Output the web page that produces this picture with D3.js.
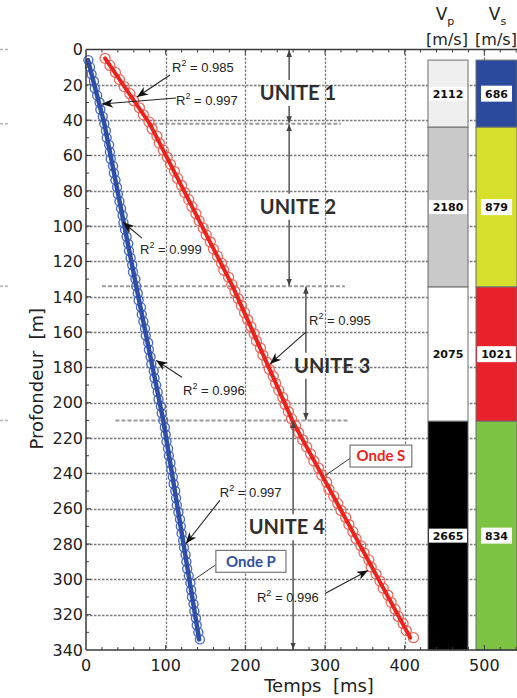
<!DOCTYPE html>
<html><head><meta charset="utf-8">
<script src="https://cdn.jsdelivr.net/npm/d3@7"></script>
<style>body{margin:0;background:#fff}svg{display:block}</style>
</head><body>
<svg id="chart" width="517" height="698"></svg>
<script>
// ---------- DATA ----------
const pDepth = [6,10,14,18,22,26,30,34,38,42,46,50,54,58,62,66,70,74,78,82,86,90,94,98,102,106,110,114,118,122,126,130,134,138,142,146,150,154,158,162,166,170,174,178,182,186,190,194,198,202,206,210,214,218,222,226,230,234,238,242,246,250,254,258,262,266,270,274,278,282,286,290,294,298,302,306,310,314,318,322,326,330,334];
const pTime  = [3,5,7,10,11,14,17,18,21,23,25,26,29,30,31,34,35,37,39,40,42,44,46,47,49,51,53,54,56,58,59,62,63,65,66,69,70,72,74,75,78,79,81,82,85,86,88,90,91,94,95,97,99,100,101,103,104,106,107,109,110,112,113,114,116,118,119,120,122,123,125,126,127,129,131,132,133,135,136,138,139,141,143];
const sDepth = [5,9,13,17,21,25,29,33,37,41,45,49,53,57,61,65,69,73,77,81,85,89,93,97,101,105,109,113,117,121,125,129,133,137,141,145,149,153,157,161,165,169,173,177,181,185,189,193,197,201,205,209,213,217,221,225,229,233,237,241,245,249,253,257,261,265,269,273,277,281,285,289,293,297,301,305,309,313,317,321,325,329,333];
const sTime  = [24,30,37,42,48,55,60,67,72,79,83,89,92,97,102,106,111,115,120,124,129,133,138,142,147,151,156,160,165,170,173,179,183,187,191,195,199,203,207,211,214,219,222,227,230,235,238,242,247,250,254,258,263,267,272,277,282,286,292,296,302,305,311,316,320,326,330,335,339,345,349,355,358,364,369,373,379,383,388,392,398,402,411];
// regression lines (per unit, joined)
const pFitDepth = [6,42,134,210,334];
const pFitTime  = [2.5,23,63,97,142];
const sFitDepth = [5,42,134,211,333];
const sFitTime  = [24,80,184,260,407];

const unitNames  = ["UNITE 1","UNITE 2","UNITE 3","UNITE 4"];
const unitBounds = [0,42,134,210,340];
const layerBounds = [6,44,134.5,210.5,340];
const vpValues = [2112,2180,2075,2665];
const vsValues = [686,879,1021,834];
const vpColors = ["#efefef","#c9c9c9","#ffffff","#000000"];
const vsColors = ["#2b4a9e","#d5df2c","#e9212a","#7cc243"];

const r2Values = ["0.985","0.997","0.999","0.996","0.995","0.997","0.996"];
const depthTickLabels = [0,20,40,60,80,100,120,140,160,180,200,220,240,260,280,300,320,340];
const timeTickLabels  = [0,100,200,300,400,500];
const legendNames = ["Onde P","Onde S"];

// ---------- LAYOUT ----------
const svg = d3.select("#chart");
const x = d3.scaleLinear().domain([0,541]).range([86,517]);
const y = d3.scaleLinear().domain([0,340]).range([49.5,650]);
const X0 = x(0), X1 = x(541), Y0 = y(0), Y1 = y(340);
const crisp = v => Math.round(v)+0.5;

const defs = svg.append("defs");
defs.append("marker").attr("id","ah").attr("viewBox","0 0 10 8").attr("refX",10).attr("refY",4)
  .attr("markerWidth",12).attr("markerHeight",9).attr("markerUnits","userSpaceOnUse").attr("orient","auto")
  .append("path").attr("d","M0,0 L10,4 L0,8 L3,4 Z").attr("fill","#111");
defs.append("marker").attr("id","uh").attr("viewBox","0 0 10 8").attr("refX",10).attr("refY",4)
  .attr("markerWidth",7).attr("markerHeight",6).attr("markerUnits","userSpaceOnUse").attr("orient","auto")
  .append("path").attr("d","M0,0 L10,4 L0,8 Z").attr("fill","#444");

// grid
const grid = svg.append("g").attr("class","grid");
depthTickLabels.filter(d=>d>0 && d<340).forEach(d=>{
  grid.append("path").attr("d",`M${X0},${crisp(y(d))}H${X1}`)
    .attr("fill","none").attr("stroke","#7a7a7a").attr("stroke-width",1.3).attr("stroke-dasharray","2.5 1.5");
});
timeTickLabels.filter(t=>t>0).forEach(t=>{
  grid.append("path").attr("d",`M${crisp(x(t))},${Y0}V${Y1}`)
    .attr("fill","none").attr("stroke","#7a7a7a").attr("stroke-width",1.3).attr("stroke-dasharray","2.5 1.5");
});

// unit boundary dashed lines
const bStart = [null,77,20,37];
const bEnd = [null,320,325,329];
[1,2,3].forEach(i=>{
  grid.append("line").attr("x1",x(bStart[i])).attr("x2",x(bEnd[i]))
    .attr("y1",y(unitBounds[i])).attr("y2",y(unitBounds[i]))
    .attr("stroke","#9a9a9a").attr("stroke-width",2).attr("stroke-dasharray","4,2");
});
// stray margin dashes
[0,1,2,3].forEach(i=>{
  svg.append("line").attr("x1",0).attr("x2",9).attr("y1",y(unitBounds[i])).attr("y2",y(unitBounds[i]))
    .attr("stroke","#b5b5b5").attr("stroke-width",1.5).attr("stroke-dasharray","3,2");
});

// columns
const vpX = 428, vpW = 40, vsX = 476, vsW = 41;
const cols = svg.append("g");
for (let i=0;i<4;i++){
  const ya = y(layerBounds[i]), yb = y(layerBounds[i+1]);
  cols.append("rect").attr("x",vpX).attr("y",ya).attr("width",vpW).attr("height",yb-ya)
    .attr("fill",vpColors[i]).attr("stroke","#6d6d6d").attr("stroke-width",1);
  cols.append("rect").attr("x",vsX).attr("y",ya).attr("width",vsW).attr("height",yb-ya)
    .attr("fill",vsColors[i]).attr("stroke","#6d6d6d").attr("stroke-width",1);
}
for (let i=0;i<4;i++){
  const yc = y((layerBounds[i]+layerBounds[i+1])/2);
  cols.append("rect").attr("x",vpX+1).attr("y",yc-7).attr("width",vpW-2).attr("height",14).attr("fill","#fff");
  cols.append("text").attr("x",vpX+vpW/2).attr("y",yc).attr("dy","0.36em").attr("text-anchor","middle")
    .attr("font-family","DejaVu Sans").attr("font-weight","bold").attr("font-size",11).attr("fill","#111")
    .text(vpValues[i]);
  const t = cols.append("text").attr("x",vsX+vsW/2).attr("y",yc).attr("dy","0.36em").attr("text-anchor","middle")
    .attr("font-family","DejaVu Sans").attr("font-weight","bold").attr("font-size",11).attr("fill","#111")
    .text(vsValues[i]);
  const w = Math.min(t.node().getComputedTextLength()+8, vsW);
  cols.append("rect").attr("x",vsX+vsW/2-w/2).attr("y",yc-8).attr("width",w).attr("height",16).attr("fill","#fff");
}
cols.selectAll("text").raise();

// headers
const hdr = svg.append("g").attr("font-family","DejaVu Sans").attr("fill","#222");
[["p",vpX+vpW/2-3,vpX+vpW/2-1],["s",vsX+vsW/2+1,vsX+vsW/2-0.5]].forEach(([sub,cx,bx])=>{
  const t = hdr.append("text").attr("x",cx).attr("y",20).attr("text-anchor","middle").attr("font-size",17);
  t.append("tspan").text("V");
  t.append("tspan").attr("font-size",11).attr("dy",5).text(sub);
  hdr.append("text").attr("x",bx).attr("y",45).attr("text-anchor","middle").attr("font-size",16).text("[m/s]");
});

// data circles
const lineGen = d3.line().x(d=>x(d[0])).y(d=>y(d[1]));
const pts = svg.append("g").attr("fill","none");
pDepth.forEach((d,i)=>{
  pts.append("circle").attr("cx",x(pTime[i])).attr("cy",y(d)).attr("r",4.5)
    .attr("stroke","#4d6cc2").attr("stroke-width",1.4);
});
sDepth.forEach((d,i)=>{
  pts.append("circle").attr("cx",x(sTime[i])).attr("cy",y(d)).attr("r",5)
    .attr("stroke","#ec6a60").attr("stroke-width",1.3);
});
// fit lines
svg.append("path").attr("d",lineGen(pFitTime.map((t,i)=>[t,pFitDepth[i]])))
  .attr("fill","none").attr("stroke","#2f4ea6").attr("stroke-width",4.5).attr("stroke-linecap","round");
svg.append("path").attr("d",lineGen(sFitTime.map((t,i)=>[t,sFitDepth[i]])))
  .attr("fill","none").attr("stroke","#e8241c").attr("stroke-width",4).attr("stroke-linecap","round");

// axes frame + ticks
const ax = svg.append("g").attr("stroke","#3a3a3a");
ax.append("line").attr("x1",X0).attr("x2",X0).attr("y1",Y0).attr("y2",Y1).attr("stroke-width",1.5);
ax.append("line").attr("x1",X0).attr("x2",X1).attr("y1",Y1).attr("y2",Y1).attr("stroke-width",1.5);
ax.append("line").attr("x1",X0).attr("x2",X1).attr("y1",Y0).attr("y2",Y0).attr("stroke-width",1.5);
for (let d=10; d<340; d+=10){
  const len = d%20===0?5:3;
  ax.append("line").attr("x1",X0).attr("x2",X0+len).attr("y1",y(d)).attr("y2",y(d)).attr("stroke-width",1);
}
for (let t=20; t<541; t+=20){
  const len = t%100===0?5:3;
  ax.append("line").attr("x1",x(t)).attr("x2",x(t)).attr("y1",Y1).attr("y2",Y1-len).attr("stroke-width",1);
  ax.append("line").attr("x1",x(t)).attr("x2",x(t)).attr("y1",Y0).attr("y2",Y0+len).attr("stroke-width",1);
}
const tl = svg.append("g").attr("font-family","DejaVu Sans").attr("font-size",16).attr("fill","#222");
depthTickLabels.forEach(d=>{
  tl.append("text").attr("x",X0-3).attr("y",y(d)).attr("dy","0.36em").attr("text-anchor","end").text(d);
});
timeTickLabels.forEach(t=>{
  tl.append("text").attr("x",x(t)).attr("y",671).attr("text-anchor","middle").text(t);
});
// axis titles
svg.append("text").attr("transform",`translate(43,${(Y0+Y1)/2+29}) rotate(-90)`)
  .attr("text-anchor","middle").attr("font-family","DejaVu Sans").attr("font-size",18).attr("fill","#222")
  .style("white-space","pre").text("Profondeur  [m]");
svg.append("text").attr("x",319).attr("y",692).attr("text-anchor","middle")
  .attr("font-family","DejaVu Sans").attr("font-size",18).attr("fill","#222")
  .style("white-space","pre").text("Temps  [ms]");

// unit arrows & labels
const unitArrowT = [255,255,276,260];
const unitTextT  = [266,266,309,252];
const unitTextD  = [24.7,89,179,270.5];
const ug = svg.append("g");
for (let i=0;i<4;i++){
  const ax_ = x(unitArrowT[i]);
  const yc = y(unitTextD[i]);
  ug.append("line").attr("x1",ax_).attr("x2",ax_).attr("y1",yc-13).attr("y2",y(unitBounds[i])+0.5)
    .attr("stroke","#555").attr("stroke-width",1.5).attr("marker-end","url(#uh)");
  ug.append("line").attr("x1",ax_).attr("x2",ax_).attr("y1",yc+13).attr("y2",y(unitBounds[i+1])-0.5)
    .attr("stroke","#555").attr("stroke-width",1.5).attr("marker-end","url(#uh)");
  ug.append("text").attr("x",x(unitTextT[i])).attr("y",yc).attr("dy","0.36em").attr("text-anchor","middle")
    .attr("font-family","Lato").attr("font-weight","bold").attr("font-size",20).attr("fill","#2e2e2e")
    .text(unitNames[i]);
}

// R² annotations: [textT, textD, tailT, tailD, tipT, tipD]
const r2Pos = [
  [108,9.9,105.4,14.4,64,26.9],
  [113,28.6,113,27.5,20,30.9],
  [67.8,113,70.3,106.8,46.4,97.8],
  [121.8,193,120.5,185.6,87.9,176],
  [280,153.3,276,160,231,178],
  [168,250.7,168,255.3,125.5,279.7],
  [214.6,310,300,308,354,295]
];
const ag = svg.append("g");
r2Pos.forEach((p,i)=>{
  ag.append("line").attr("x1",x(p[2])).attr("y1",y(p[3])).attr("x2",x(p[4])).attr("y2",y(p[5]))
    .attr("stroke","#222").attr("stroke-width",1.1).attr("marker-end","url(#ah)");
  const t = ag.append("text").attr("x",x(p[0])).attr("y",y(p[1])+5)
    .attr("font-family","Liberation Sans").attr("font-size",13).attr("fill","#222");
  t.append("tspan").text("R");
  t.append("tspan").attr("font-size",9).attr("dy",-6).text("2");
  t.append("tspan").attr("dy",6).text(" = "+r2Values[i]);
});

// legend boxes: [x0,d0,x1,d1, lineFromT,lineFromD,lineToT,lineToD]
const legPos = [
  [163,283.6,251,296, 162,292,134.3,300.6],
  [331.4,224,409,236.4, 331.4,231.5,301,241]
];
const legColors = ["#3050a8","#e8241c"];
legPos.forEach((p,i)=>{
  ag.append("line").attr("x1",x(p[4])).attr("y1",y(p[5])).attr("x2",x(p[6])).attr("y2",y(p[7]))
    .attr("stroke","#333").attr("stroke-width",1);
  ag.append("rect").attr("x",x(p[0])).attr("y",y(p[1])).attr("width",x(p[2])-x(p[0])).attr("height",y(p[3])-y(p[1]))
    .attr("fill","#fff").attr("stroke","#777").attr("stroke-width",1.2);
  ag.append("text").attr("x",(x(p[0])+x(p[2]))/2).attr("y",(y(p[1])+y(p[3]))/2).attr("dy","0.36em")
    .attr("text-anchor","middle").attr("font-family","Lato").attr("font-weight","bold").attr("font-size",15)
    .attr("fill",legColors[i]).text(legendNames[i]);
});
</script>
</body></html>
